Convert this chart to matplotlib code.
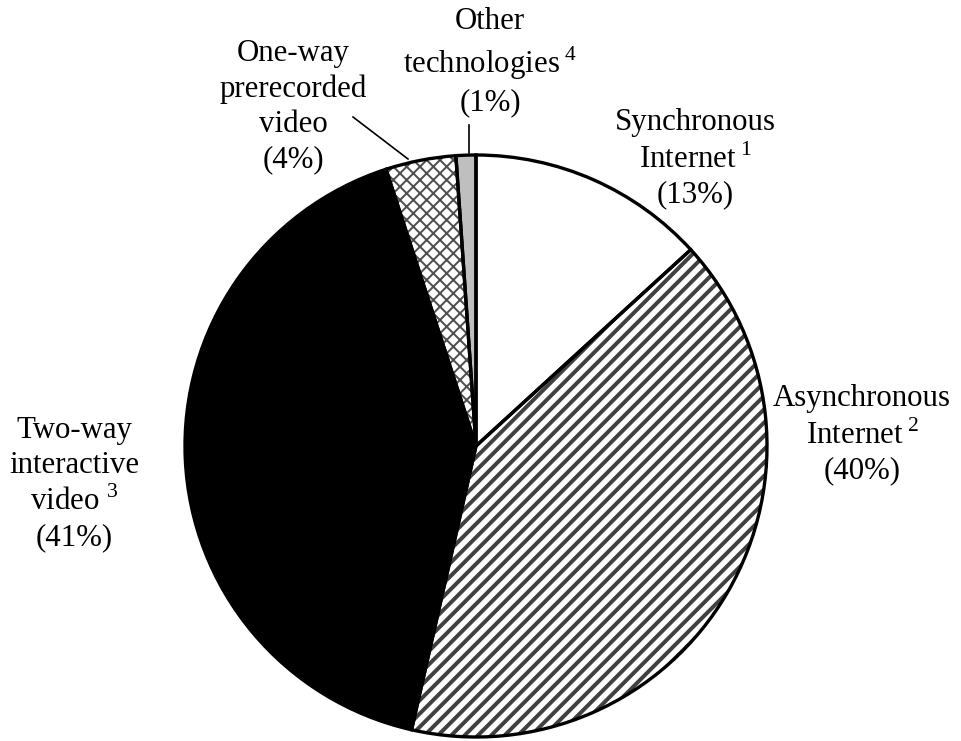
import matplotlib.pyplot as plt
import numpy as np

plt.rcParams['font.family'] = ['Liberation Serif', 'DejaVu Serif']
plt.rcParams['mathtext.fontset'] = 'custom'
plt.rcParams['mathtext.rm'] = 'Liberation Serif'
plt.rcParams['hatch.linewidth'] = 2.0

# shares of courses by technology (percent)
categories = ['Synchronous Internet', 'Asynchronous Internet', 'Two-way interactive video',
              'One-way prerecorded video', 'Other technologies']
shares = [13.2, 40.3, 41.4, 3.9, 1.1]
face_cols = ['white', 'white', 'black', 'white', '#bfbfbf']
hatches = [None, '///', None, 'xxx', None]
hatch_cols = ['black', '#404040', 'black', '#505050', 'black']
hatch_lw = [1, 2.4, 1, 1.2, 1]

labels = ['Synchronous\nInternet$\\,^{1}$\n(13%)',
          'Asynchronous\nInternet$\\,^{2}$\n(40%)',
          'Two-way\ninteractive\nvideo $^{3}$\n(41%)',
          'One-way\nprerecorded\nvideo\n(4%)',
          'Other\ntechnologies$\\,^{4}$\n(1%)']

W, H = 961, 741
dpi = 120
fig = plt.figure(figsize=(W / dpi, H / dpi), dpi=dpi)
ax = fig.add_axes([0, 0, 1, 1])

cx, cy, r = 476, H - 446, 291

# fill + hatch layer
wedges, _ = ax.pie(shares, startangle=90, counterclock=False, center=(cx, cy),
                   radius=r, frame=True, colors=face_cols,
                   wedgeprops=dict(linewidth=0))
for w, h, hc, hl in zip(wedges, hatches, hatch_cols, hatch_lw):
    if h:
        w.set_hatch(h)
        w.set_edgecolor(hc)
        w.set_linewidth(0)
        if hasattr(w, 'set_hatch_linewidth'):
            w.set_hatch_linewidth(hl)

# outline layer
ax.pie(shares, startangle=90, counterclock=False, center=(cx, cy), radius=r,
       frame=True, wedgeprops=dict(fill=False, edgecolor='black', linewidth=2))

# label positions in pixel coords (x, y from top)
lab_pos = [(695, 159), (862, 435), (74, 484), (293, 107), (490, 62)]
for lab, (px, py) in zip(labels, lab_pos):
    ax.text(px, H - py, lab, ha='center', va='center', fontsize=18.5,
            linespacing=1.28)

# leader lines
ax.plot([353, 408], [H - 117, H - 159], color='black', lw=1)
ax.plot([469, 469], [H - 125, H - 153], color='black', lw=1)

ax.set_xlim(0, W)
ax.set_ylim(0, H)
ax.set_aspect('equal')
ax.axis('off')

plt.savefig('out.png', dpi=dpi)
